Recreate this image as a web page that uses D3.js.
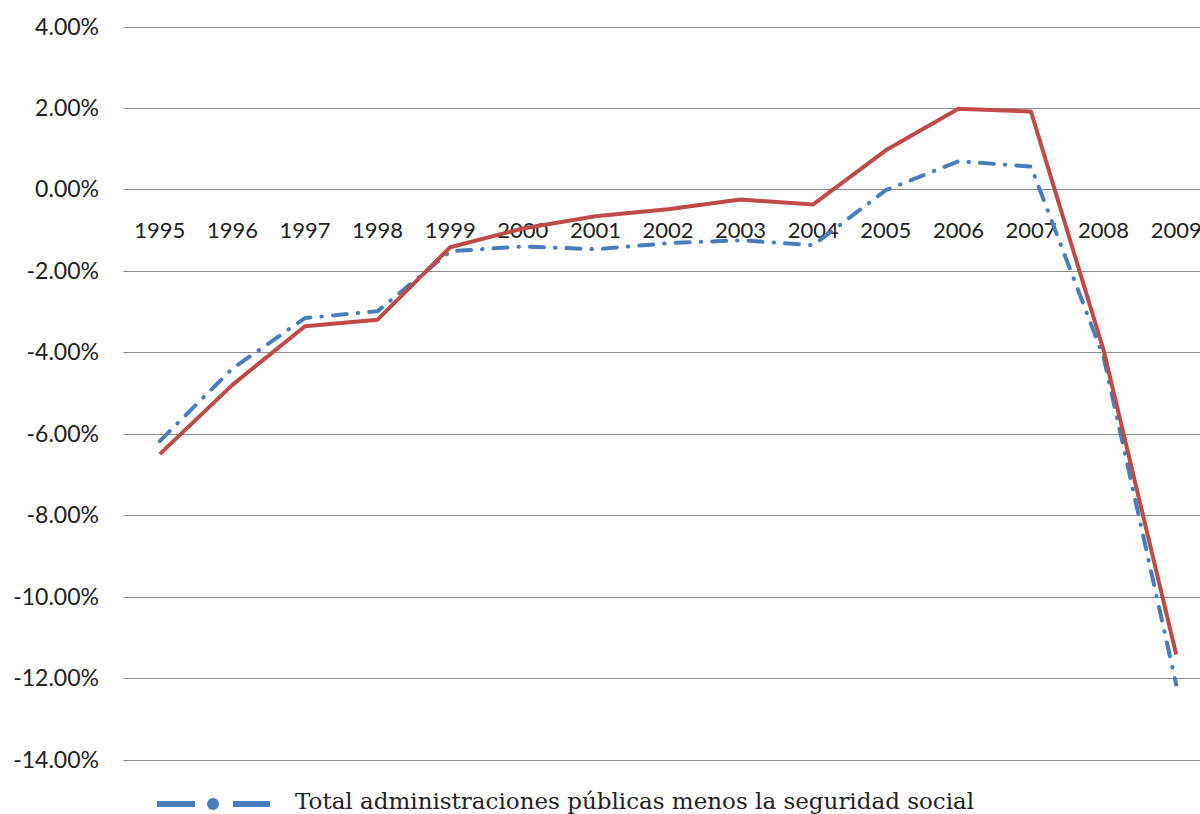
<!DOCTYPE html>
<html><head><meta charset="utf-8">
<script src="https://cdn.jsdelivr.net/npm/d3@7"></script>
<style>body{margin:0;background:#fff;overflow:hidden}</style>
</head><body>
<svg id="c" width="1200" height="814"></svg>
<script>
const years = ["1995","1996","1997","1998","1999","2000","2001","2002","2003","2004","2005","2006","2007","2008","2009"];
const totalAAPP = [-6.50,-4.80,-3.36,-3.20,-1.42,-0.96,-0.66,-0.49,-0.25,-0.37,0.96,1.98,1.91,-3.95,-11.42];
const sinSS = [-6.18,-4.40,-3.16,-2.99,-1.52,-1.40,-1.47,-1.32,-1.25,-1.37,-0.02,0.69,0.56,-4.12,-12.16];
const yTicks = [4,2,0,-2,-4,-6,-8,-10,-12,-14];
const legendLabel = "Total administraciones públicas menos la seguridad social";

const svg = d3.select("#c");
const left = 123.5, step = 72.6;
const x = d3.scalePoint().domain(years).range([left + step/2, left + step*(years.length-0.5)]);
const y = d3.scaleLinear().domain([-14, 4]).range([759.5, 26.5]);

svg.append("g").selectAll("line").data(yTicks).join("line")
  .attr("x1", left).attr("x2", 1200)
  .attr("y1", d => Math.round(y(d)) + 0.5).attr("y2", d => Math.round(y(d)) + 0.5)
  .attr("stroke", "#8c8c8c").attr("stroke-width", 1);

svg.append("g").selectAll("text").data(yTicks).join("text")
  .attr("x", 99).attr("y", d => y(d)).attr("dy", "0.35em")
  .attr("text-anchor", "end")
  .attr("font-family", "Lato, 'Open Sans', sans-serif").attr("font-size", 23).attr("fill", "#222")
  .text(d => d.toFixed(2) + "%");

svg.append("g").selectAll("text").data(years).join("text")
  .attr("x", d => x(d)).attr("y", 230).attr("dy", "0.35em")
  .attr("text-anchor", "middle")
  .attr("font-family", "Lato, 'Open Sans', sans-serif").attr("font-size", 22).attr("fill", "#222")
  .text(d => d);

const line = d3.line().x((d,i) => x(years[i])).y(d => y(d));

svg.append("path").datum(sinSS).attr("d", line)
  .attr("fill", "none").attr("stroke", "#4a7ebb").attr("stroke-width", 4)
  .attr("stroke-linecap", "round").attr("stroke-linejoin", "round")
  .attr("stroke-dasharray", "14,11,0.5,11");

svg.append("path").datum(totalAAPP).attr("d", line)
  .attr("fill", "none").attr("stroke", "#be4b48").attr("stroke-width", 4)
  .attr("stroke-linejoin", "round");

const lg = svg.append("g");
lg.append("line").attr("x1", 157).attr("x2", 195).attr("y1", 804).attr("y2", 804)
  .attr("stroke", "#4a7ebb").attr("stroke-width", 6);
lg.append("circle").attr("cx", 213).attr("cy", 804).attr("r", 6).attr("fill", "#4a7ebb");
lg.append("line").attr("x1", 233).attr("x2", 270).attr("y1", 804).attr("y2", 804)
  .attr("stroke", "#4a7ebb").attr("stroke-width", 6);
lg.append("text").attr("x", 295).attr("y", 809)
  .attr("font-family", "'DejaVu Serif', 'Liberation Serif', serif").attr("font-size", 23).attr("fill", "#222")
  .text(legendLabel);
</script>
</body></html>
